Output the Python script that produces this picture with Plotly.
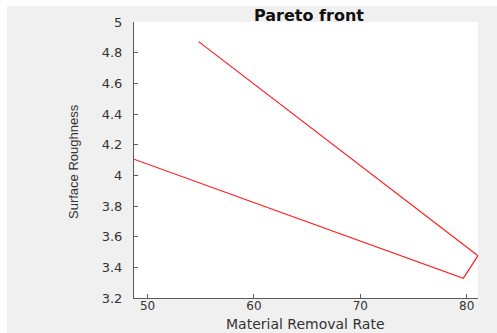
import plotly.graph_objects as go

# Data
mrr = [48.72, 79.68, 81.06, 54.8]
roughness = [4.105, 3.329, 3.476, 4.872]

x_ticks = [50, 60, 70, 80]
y_ticks = [3.2, 3.4, 3.6, 3.8, 4.0, 4.2, 4.4, 4.6, 4.8, 5.0]
y_tick_text = ["3.2", "3.4", "3.6", "3.8", "4", "4.2", "4.4", "4.6", "4.8", "5"]

W, H = 497, 333
L, R, T, B = 134, 478, 22, 298
pw, ph = R - L, B - T

def px(x):
    return (x - L) / pw

def py(y):
    return (B - y) / ph

fig = go.Figure()
fig.add_trace(go.Scatter(x=mrr, y=roughness, mode="lines",
                         line=dict(color="#ff1a1a", width=1.2),
                         showlegend=False, hoverinfo="skip"))

axis_col = "#5a5a5a"
tick_font = dict(family="DejaVu Sans", size=13, color="#333333")

fig.update_layout(
    width=W, height=H,
    margin=dict(l=L, r=W - R, t=T, b=H - B, pad=0),
    paper_bgcolor="#f0f0f0",
    plot_bgcolor="white",
    xaxis=dict(range=[48.72, 81.06], tickvals=x_ticks, ticks="inside", ticklen=4,
               tickcolor=axis_col, showline=True, linecolor=axis_col, linewidth=1,
               showgrid=False, zeroline=False,
               tickfont=dict(family="DejaVu Sans", size=12, color="#333333"),
               ticklabelstandoff=-3, mirror=False),
    yaxis=dict(range=[3.2, 5.0], tickvals=y_ticks, ticktext=y_tick_text,
               ticks="inside", ticklen=4, tickcolor=axis_col, showline=True,
               linecolor=axis_col, linewidth=1, showgrid=False, zeroline=False,
               tickfont=tick_font, ticklabelstandoff=8, mirror=False),
    shapes=[
        dict(type="rect", xref="paper", yref="paper", x0=px(0), x1=px(7),
             y0=py(H), y1=py(0), fillcolor="white", line=dict(width=0), layer="below"),
        dict(type="rect", xref="paper", yref="paper", x0=px(0), x1=px(W),
             y0=py(6), y1=py(0), fillcolor="white", line=dict(width=0), layer="below"),
    ],
    annotations=[
        dict(text="<b>Pareto front</b>", xref="paper", yref="paper",
             x=px(309), y=py(15.5), xanchor="center", yanchor="middle",
             showarrow=False, font=dict(family="DejaVu Sans", size=16, color="#111111")),
        dict(text="Material Removal Rate", xref="paper", yref="paper",
             x=px(305), y=py(324), xanchor="center", yanchor="middle",
             showarrow=False, font=dict(family="DejaVu Sans", size=14, color="#333333")),
        dict(text="Surface Roughness", xref="paper", yref="paper",
             x=px(73), y=py(162), xanchor="center", yanchor="middle", textangle=-90,
             showarrow=False, font=dict(family="Liberation Sans", size=13, color="#333333")),
    ],
)

fig.write_html("out.html")
